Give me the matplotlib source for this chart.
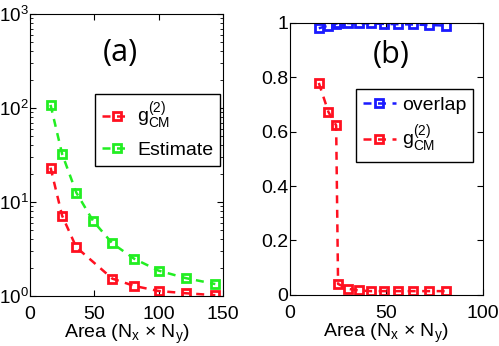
import numpy as np
import matplotlib.pyplot as plt

# panel (a): log scale
area_a = [16, 25, 36, 49, 64, 81, 100, 121, 144]
g2_area = [16, 25, 36, 64, 81, 100, 121, 144]
g2_a = [23.2, 7.15, 3.3, 1.53, 1.28, 1.13, 1.07, 1.02]
estimate_a = [108, 32.4, 12.6, 6.3, 3.63, 2.49, 1.86, 1.55, 1.34]

# panel (b): linear scale
area_b = [15, 20, 24, 25, 30, 36, 42, 49, 56, 64, 72, 81]
overlap_b = [0.980, 0.990, 0.997, 1.0, 0.999, 0.998, 0.998, 0.996, 0.995, 0.994, 0.992, 0.990]
g2_b = [0.779, 0.672, 0.623, 0.040, 0.022, 0.016, 0.0135, 0.0135, 0.0135, 0.0135, 0.0135, 0.0135]

red = '#ff1020'
green = '#22ee22'
blue = '#1a1aff'

plt.rcParams['font.family'] = ['Liberation Sans', 'DejaVu Sans']
plt.rcParams['mathtext.fontset'] = 'custom'
plt.rcParams['mathtext.rm'] = 'Liberation Sans'
plt.rcParams['font.size'] = 14

fig = plt.figure(figsize=(4.99, 3.46), dpi=100)
ax1 = fig.add_axes([0.060, 0.1445, 0.387, 0.815])
ax2 = fig.add_axes([0.581, 0.148, 0.386, 0.786])

mk = dict(marker='s', markersize=5.5, mfc='none', mew=2, lw=1.8, dashes=(3.2, 2.6))

ax1.semilogy(g2_area, g2_a, color=red, label=r'g$^{(2)}_{\rm CM}$', **mk)
ax1.semilogy(area_a, estimate_a, color=green, label='Estimate', **mk)
ax1.set_xlim(0, 150)
ax1.set_ylim(1, 1000)
ax1.set_xticks([0, 50, 100, 150])
ax1.text(0.47, 0.86, '(a)', transform=ax1.transAxes, fontsize=22, family='Open Sans',
         ha='center', va='center')
ax1.legend(loc='upper right', bbox_to_anchor=(0.985, 0.717), fancybox=False, edgecolor='black',
           framealpha=1, handlelength=1.5, borderpad=0.35, labelspacing=0.5,
           handletextpad=0.3, borderaxespad=0, fontsize=14)
ax1.set_xlabel(r'Area (N$_{\rm x}$ $\times$ N$_{\rm y}$)', labelpad=0)

ax2.plot(area_b, overlap_b, color=blue, label='overlap', **mk)
ax2.plot(area_b, g2_b, color=red, label=r'g$^{(2)}_{\rm CM}$', **mk)
ax2.set_xlim(0, 100)
ax2.set_ylim(0, 1)
ax2.set_xticks([0, 50, 100])
ax2.set_yticks([0, 0.2, 0.4, 0.6, 0.8, 1])
ax2.set_yticklabels(['0', '0.2', '0.4', '0.6', '0.8', '1'])
ax2.text(0.524, 0.88, '(b)', transform=ax2.transAxes, fontsize=22, family='Open Sans',
         ha='center', va='center')
ax2.legend(loc='upper right', bbox_to_anchor=(0.95, 0.755), fancybox=False, edgecolor='black',
           framealpha=1, handlelength=1.7, borderpad=0.35, labelspacing=0.5,
           handletextpad=0.3, borderaxespad=0, fontsize=14)
ax2.set_xlabel(r'Area (N$_{\rm x}$ $\times$ N$_{\rm y}$)', labelpad=0)

for ax in (ax1, ax2):
    ax.tick_params(which='both', direction='in', top=True, right=True)
    ax.tick_params(axis='x', pad=7)
    ax.tick_params(axis='y', pad=1)
    ax.tick_params(which='major', length=4)
    ax.tick_params(which='minor', length=2)
ax1.tick_params(axis='y', labelsize=13.5)

fig.savefig('out.png', dpi=100)
